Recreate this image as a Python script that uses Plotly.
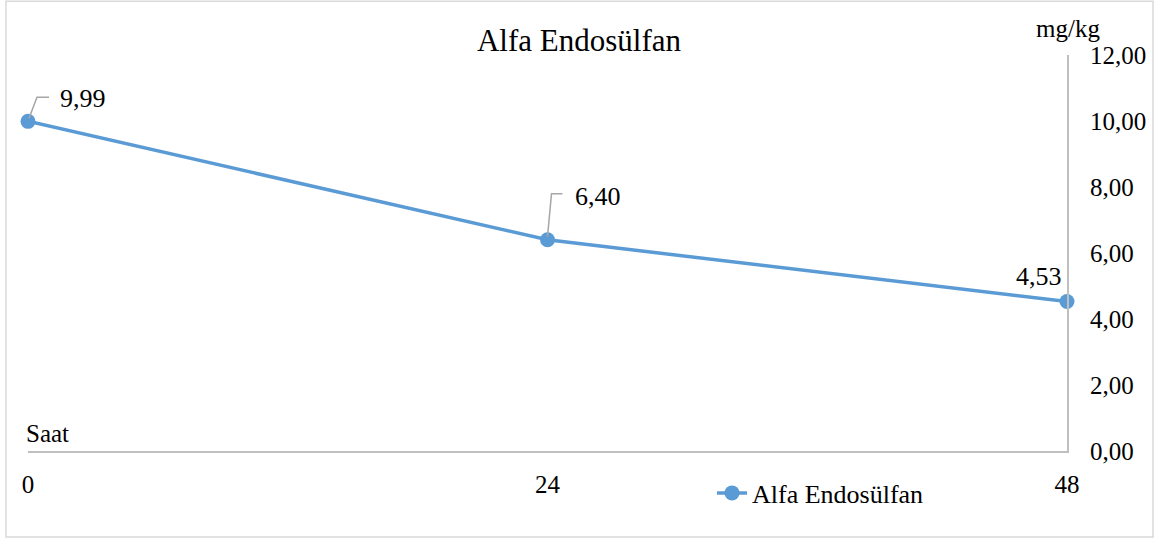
import plotly.graph_objects as go

# data
hours = [0, 24, 48]
values = [9.99, 6.40, 4.53]
series_name = "Alfa Endosülfan"
y_ticks = [0, 2, 4, 6, 8, 10, 12]

blue = "#5b9bd5"
grey = "#bfbfbf"
serif = "Liberation Serif"

fig = go.Figure()

fig.add_trace(go.Scatter(
    x=hours,
    y=values,
    mode="lines+markers",
    name=series_name,
    line=dict(color=blue, width=3.5),
    marker=dict(color=blue, size=15),
    cliponaxis=False,
))

# data labels: (text dx, text dy) in pixels, and leader path (pixels) or None
label_style = [
    (30, 23, "M 1 3 L 9 24 L 21 24"),
    (25, 43, "M 0 3 L 4 46 L 15 46"),
    (-28, 25, None),
]
for (h, v), (dx, dy, leader) in zip(zip(hours, values), label_style):
    txt = f"{v:.2f}".replace(".", ",")
    fig.add_annotation(
        x=h, y=v, text=txt, showarrow=False,
        xanchor="left" if leader else "center", yanchor="middle",
        xshift=dx, yshift=dy,
        font=dict(family=serif, size=26, color="black"),
    )
    if leader:
        fig.add_shape(
            type="path", xref="x", yref="y",
            xsizemode="pixel", ysizemode="pixel", xanchor=h, yanchor=v,
            path=leader, line=dict(color="#a6a6a6", width=1.5),
        )

# axis titles
fig.add_annotation(x=0, y=0, xref="paper", yref="paper", text="Saat",
                   showarrow=False, xanchor="left", yanchor="middle",
                   xshift=-4, yshift=18,
                   font=dict(family=serif, size=25, color="black"))
fig.add_annotation(x=1, y=1, xref="paper", yref="paper", text="mg/kg",
                   showarrow=False, xanchor="center", yanchor="middle",
                   xshift=1, yshift=27,
                   font=dict(family=serif, size=25, color="black"))

# chart border
fig.add_shape(type="rect", xref="paper", yref="paper",
              x0=-0.0212, x1=1.0828, y0=-0.2172, y1=1.136,
              line=dict(color="#d9d9d9", width=1.5))

fig.update_layout(
    width=1170, height=540,
    margin=dict(l=28, r=103, t=55, b=89),
    paper_bgcolor="white", plot_bgcolor="white",
    separators=",.",
    title=dict(text=series_name, x=(579 - 28) / 1039, xref="paper",
               xanchor="center", y=1 - 40 / 540, yanchor="middle",
               font=dict(family=serif, size=31, color="black")),
    font=dict(family=serif, size=25, color="black"),
    xaxis=dict(range=[0, 48], tickvals=hours, ticktext=[str(h) for h in hours],
               showgrid=False, zeroline=False, showline=True,
               linecolor=grey, linewidth=2, ticks="", ticklabelstandoff=10,
               tickfont=dict(family=serif, size=25)),
    yaxis=dict(range=[0, 12], tickvals=y_ticks, tickformat=".2f",
               side="right", showgrid=False, zeroline=False, showline=True,
               linecolor=grey, linewidth=2, ticks="",
               ticklabelstandoff=16,
               tickfont=dict(family=serif, size=25)),
    legend=dict(orientation="h", x=(712 - 28) / 1039, y=-0.106,
                xanchor="left", yanchor="middle",
                font=dict(family=serif, size=26, color="black"),
                bgcolor="rgba(0,0,0,0)"),
    showlegend=True,
)

fig.write_html("out.html", config={"displayModeBar": False},
               post_script="document.body.style.margin='0px';")
